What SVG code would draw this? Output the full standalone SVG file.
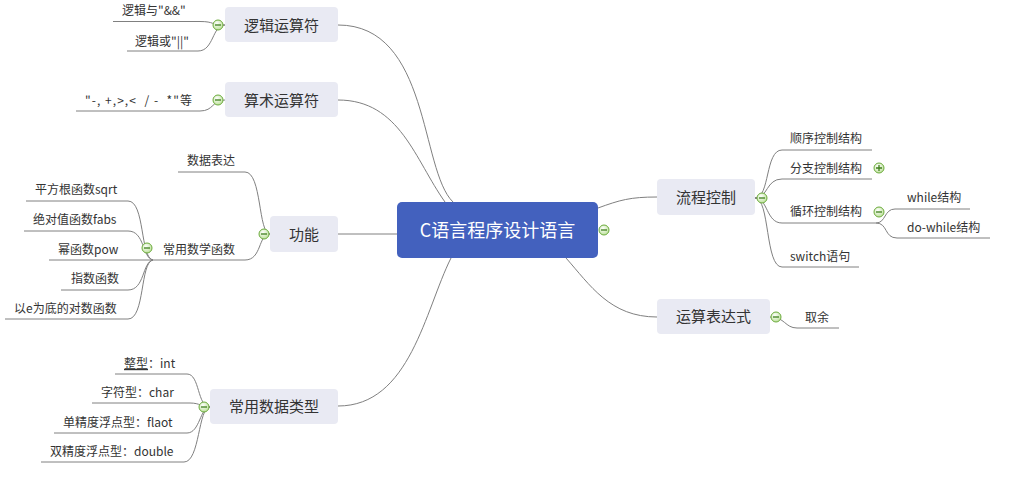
<svg xmlns="http://www.w3.org/2000/svg" width="1011" height="491" viewBox="0 0 1011 491">
<style>
.bg{fill:#ffffff}
.box{fill:#e9eaf3}
.main{fill:#4361be}
.t{font-family:"Noto Sans CJK SC","Liberation Sans",sans-serif;fill:#333333;white-space:pre}
.nt{font-size:15px;text-anchor:middle}
.ct{font-size:12px}
.mt{font-size:18px;text-anchor:middle;fill:#ffffff}
.ln{fill:none;stroke:#808080;stroke-width:1}
.tog circle{fill:url(#g);stroke:#6cab3c;stroke-width:1}
.tog path{stroke:#3f7f1c;stroke-width:1.3;fill:none}
</style>
<defs>
<radialGradient id="g" cx="0.4" cy="0.35" r="0.7">
<stop offset="0" stop-color="#ffffff"/>
<stop offset="1" stop-color="#b9df95"/>
</radialGradient>
</defs>
<rect class="bg" x="0" y="0" width="1011" height="491"/>

<g id="connectors">
<path class="ln" d="M338,25 C430,25 420,170 453,202"/>
<path class="ln" d="M338,100 C400,100 415,160 445,202"/>
<path class="ln" d="M338,234 H397"/>
<path class="ln" d="M338,406 C410,406 425,310 451,258"/>
<path class="ln" d="M598,208 C620,200 630,197 657,197"/>
<path class="ln" d="M566,258 C590,285 610,317 657,317"/>

<path class="ln" d="M225,25 C210,25 215,21.5 200,21.5 H113"/>
<path class="ln" d="M225,25 C212,25 214,51 198,51 H127"/>
<path class="ln" d="M225,100 C212,100 214,111 200,111 H76"/>

<path class="ln" d="M270,234 C258,234 262,172 245,172 H178"/>
<path class="ln" d="M270,234 C258,234 262,260 245,260 H153"/>
<path class="ln" d="M153,260 C140,258 145,201 128,201 H26"/>
<path class="ln" d="M153,260 C142,258 145,231 128,231 H24"/>
<path class="ln" d="M153,260 H49"/>
<path class="ln" d="M153,260 C142,262 145,290 128,290 H61"/>
<path class="ln" d="M153,260 C140,262 145,319 128,319 H5"/>

<path class="ln" d="M210,407 C197,407 200,374 187,374 H115"/>
<path class="ln" d="M210,407 C202,407 200,403 190,403 H92"/>
<path class="ln" d="M210,407 C200,407 200,433 187,433 H54"/>
<path class="ln" d="M210,407 C198,407 200,462 184,462 H41"/>

<path class="ln" d="M755,198 C770,198 765,150 782,150 H872"/>
<path class="ln" d="M755,198 C768,198 766,179 782,179 H872"/>
<path class="ln" d="M755,198 C768,198 766,223 782,223 H876"/>
<path class="ln" d="M755,198 C770,198 765,267 782,267 H859"/>
<path class="ln" d="M876,223 C886,223 884,209 895,209 H970"/>
<path class="ln" d="M876,223 C888,223 884,238 897,238 H990"/>
<path class="ln" d="M770,317 C785,317 785,328 797,328 H839"/>
</g>

<g id="n-center">
<rect class="main" x="397" y="202" width="201" height="56" rx="5"/>
<text class="t mt" x="497.5" y="237">C语言程序设计语言</text>
</g>

<g id="n-luoji">
<rect class="box" x="225" y="7" width="113" height="35" rx="4"/>
<text class="t nt" x="281.5" y="30.5">逻辑运算符</text>
</g>
<g id="n-suanshu">
<rect class="box" x="225" y="82" width="113" height="35" rx="4"/>
<text class="t nt" x="281.5" y="105.5">算术运算符</text>
</g>
<g id="n-gongneng">
<rect class="box" x="270" y="216" width="68" height="36" rx="4"/>
<text class="t nt" x="304" y="240">功能</text>
</g>
<g id="n-shuju">
<rect class="box" x="210" y="389" width="128" height="35" rx="4"/>
<text class="t nt" x="274" y="412">常用数据类型</text>
</g>
<g id="n-liucheng">
<rect class="box" x="657" y="179" width="98" height="36" rx="4"/>
<text class="t nt" x="706" y="203">流程控制</text>
</g>
<g id="n-yunsuan">
<rect class="box" x="657" y="299" width="113" height="35" rx="4"/>
<text class="t nt" x="713.5" y="322">运算表达式</text>
</g>

<g id="c-luoji">
<text class="t ct" x="122" y="15">逻辑与"&amp;&amp;"</text>
<text class="t ct" x="135" y="46">逻辑或"||"</text>
</g>
<g id="c-suanshu">
<text class="t ct" x="85" y="105" textLength="107" lengthAdjust="spacing">"-, +,&gt;,&lt;  / -  *"等</text>
</g>
<g id="c-gongneng">
<text class="t ct" x="187" y="165">数据表达</text>
<text class="t ct" x="163" y="254">常用数学函数</text>
</g>
<g id="c-hanshu">
<text class="t ct" x="35" y="194">平方根函数sqrt</text>
<text class="t ct" x="33" y="224">绝对值函数fabs</text>
<text class="t ct" x="58" y="254">幂函数pow</text>
<text class="t ct" x="71" y="283">指数函数</text>
<text class="t ct" x="14" y="313">以e为底的对数函数</text>
</g>
<g id="c-shuju">
<text class="t ct" x="124" y="368"><tspan text-decoration="underline">整型</tspan>：int</text>
<text class="t ct" x="101" y="397">字符型：char</text>
<text class="t ct" x="63" y="427">单精度浮点型：flaot</text>
<text class="t ct" x="50" y="456">双精度浮点型：double</text>
</g>
<g id="c-liucheng">
<text class="t ct" x="790" y="143">顺序控制结构</text>
<text class="t ct" x="790" y="173">分支控制结构</text>
<text class="t ct" x="790" y="216">循环控制结构</text>
<text class="t ct" x="790" y="261">switch语句</text>
<text class="t ct" x="907" y="202">while结构</text>
<text class="t ct" x="907" y="232">do-while结构</text>
</g>
<g id="c-yunsuan">
<text class="t ct" x="805" y="322">取余</text>
</g>

<g id="toggles" class="tog">
<g><circle cx="218" cy="25" r="5"/><path d="M215,25 H221"/></g>
<g><circle cx="218" cy="100" r="5"/><path d="M215,100 H221"/></g>
<g><circle cx="264" cy="234" r="5"/><path d="M261,234 H267"/></g>
<g><circle cx="147" cy="248" r="5"/><path d="M144,248 H150"/></g>
<g><circle cx="204" cy="407" r="5"/><path d="M201,407 H207"/></g>
<g><circle cx="604" cy="230" r="5"/><path d="M601,230 H607"/></g>
<g><circle cx="762" cy="198" r="5"/><path d="M759,198 H765"/></g>
<g><circle cx="879" cy="168" r="5"/><path d="M876,168 H882 M879,165 V171"/></g>
<g><circle cx="879" cy="212" r="5"/><path d="M876,212 H882"/></g>
<g><circle cx="776" cy="317" r="5"/><path d="M773,317 H779"/></g>
</g>
</svg>
